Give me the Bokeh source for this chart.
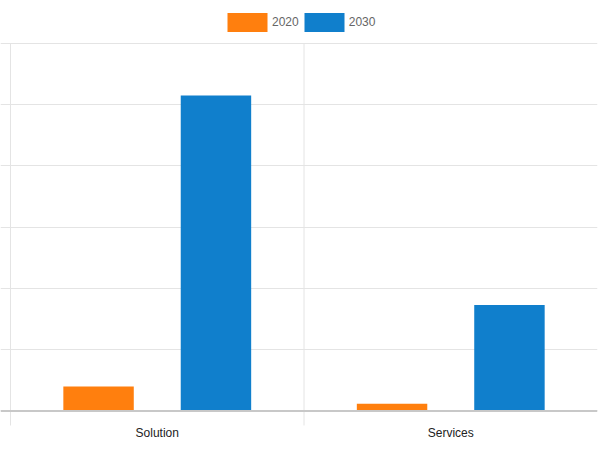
from bokeh.plotting import figure
from bokeh.models import FixedTicker, Legend, LegendItem, Range1d, Span
from bokeh.core.properties import value
from bokeh.embed import file_html
from bokeh.resources import INLINE

categories = ["Solution", "Services"]
series_names = ["2020", "2030"]
values_2020 = [4.0, 1.2]
values_2030 = [51.5, 17.3]
series_colors = ["#ff7f0e", "#107fcc"]
y_ticks = [0, 10, 20, 30, 40, 50, 60]

FONT = "Liberation Sans"
FRAME_H = 452           # px, whole figure is the frame (no side panels)
Y_START, Y_END = -6.776, 67.02
PX = (Y_END - Y_START) / FRAME_H   # data units per pixel

centers = [i + 0.5 for i in range(len(categories))]
boundaries = [i for i in range(len(categories))]

p = figure(width=600, height=FRAME_H, output_backend="svg", toolbar_location=None,
           title=None, x_axis_location=None, y_axis_location=None,
           x_range=Range1d(-0.0341, len(categories)), y_range=Range1d(Y_START, Y_END),
           min_border_left=0, min_border_right=3, min_border_top=0, min_border_bottom=0)
p.outline_line_color = None
p.xgrid.visible = False
p.ygrid.ticker = FixedTicker(ticks=y_ticks)
p.ygrid.grid_line_color = "#e4e4e4"

# category separators (extend a little below the baseline, like tick marks)
p.segment(x0=boundaries, x1=boundaries, y0=[y_ticks[-1]] * len(boundaries),
          y1=[-14.5 * PX] * len(boundaries), line_color="#e4e4e4", line_width=1)

# baseline
p.add_layout(Span(location=0, dimension="width", line_color="#c8c8c8", line_width=2))

offsets = [-0.2, 0.2]
renderers = []
for vals, off, col in zip([values_2020, values_2030], offsets, series_colors):
    r = p.vbar(x=[c + off for c in centers], top=vals, width=0.24, bottom=0,
               fill_color=col, line_color=None)
    renderers.append(r)

# category labels
p.text(x=centers, y=[0] * len(centers), text=categories, y_offset=22.5,
       text_align="center", text_baseline="middle",
       text_font=value(FONT), text_font_size="12px", text_color="#222222")

legend = Legend(items=[LegendItem(label=n, renderers=[r]) for n, r in zip(series_names, renderers)],
                orientation="horizontal", location=(222, FRAME_H - 33.6),
                glyph_width=50, glyph_height=24, label_standoff=0, spacing=0,
                padding=0, margin=0, border_line_color=None, background_fill_alpha=0,
                label_text_font=FONT, label_text_font_size="12px",
                label_text_color="#666666")
p.add_layout(legend, "center")

open("out.html", "w").write(file_html(p, INLINE))
